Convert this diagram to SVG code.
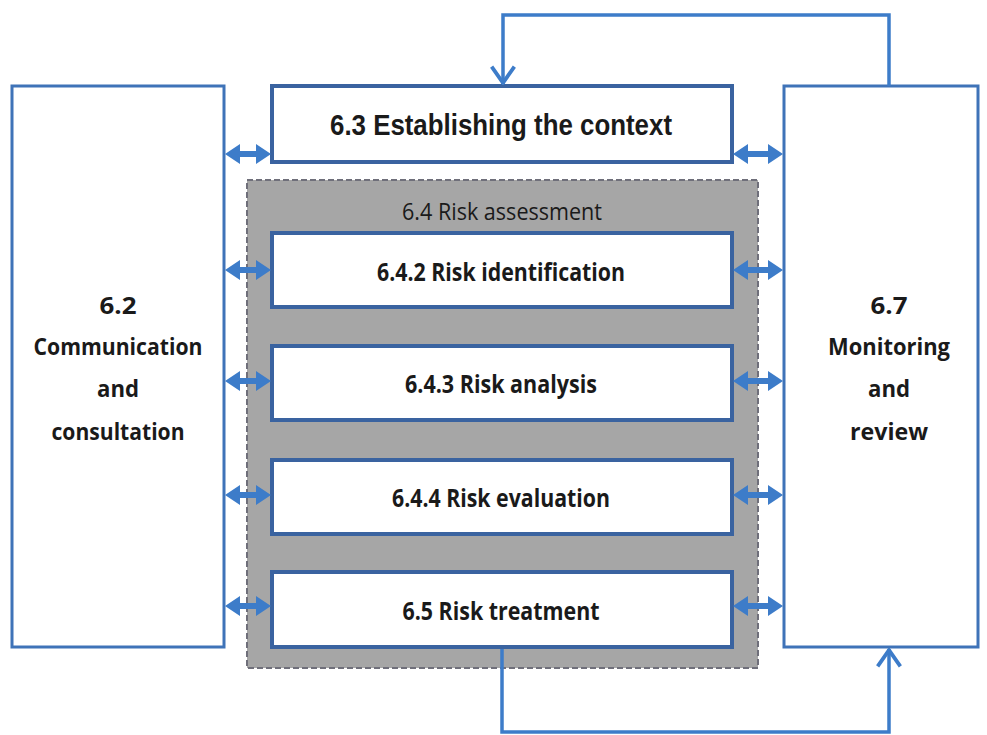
<svg xmlns="http://www.w3.org/2000/svg" width="987" height="735" viewBox="0 0 987 735">
<defs>
<path id="dblL" d="M0,0 L15,-10 L15,-3 L31,-3 L31,-10 L46,0 L31,10 L31,3 L15,3 L15,10 Z" fill="#3d7cc9"/>
<path id="dblR" d="M0,0 L15,-10 L15,-3 L35,-3 L35,-10 L50,0 L35,10 L35,3 L15,3 L15,10 Z" fill="#3d7cc9"/>
<marker id="chev" viewBox="0 0 20 24" refX="19" refY="12" markerWidth="22" markerHeight="26" orient="auto" markerUnits="userSpaceOnUse">
<path d="M3,1.5 L18,12 L3,22.5" fill="none" stroke="#3d7cc9" stroke-width="3.5"/>
</marker>
<style>
.box{fill:#fff;stroke:#3a63a0;stroke-width:4}
.side{fill:#fff;stroke:#3f73b8;stroke-width:3}
.zone{fill:#a6a6a6;stroke:#6f6f7a;stroke-width:2;stroke-dasharray:6 3}
.fb{stroke:#3d7cc9;stroke-width:3.5;fill:none}
.t1{font-family:"Liberation Sans",Arial,sans-serif;font-weight:bold;font-size:30px;fill:#1a1a1a;text-anchor:middle}
.t2{font-family:"Open Sans","Liberation Sans",sans-serif;font-weight:bold;font-size:25px;fill:#1a1a1a;text-anchor:middle}
.t4{font-family:"Open Sans","Liberation Sans",sans-serif;font-weight:bold;font-size:24px;fill:#1a1a1a;text-anchor:middle}
.t3{font-family:"Open Sans","Liberation Sans",sans-serif;font-size:23px;fill:#1a1a1a;text-anchor:middle}
</style>
</defs>
<rect width="987" height="735" fill="#fff"/>

<g id="zone-risk-assessment">
<rect class="zone" x="247" y="180" width="511" height="488"/>
<text class="t3" x="502" y="220" textLength="200" lengthAdjust="spacingAndGlyphs">6.4 Risk assessment</text>
</g>

<g id="node-communication">
<rect class="side" x="12" y="86" width="212" height="561"/>
<text class="t4" x="118" y="314" textLength="37" lengthAdjust="spacingAndGlyphs">6.2</text>
<text class="t4" x="118" y="355" textLength="169" lengthAdjust="spacingAndGlyphs">Communication</text>
<text class="t4" x="118" y="397" textLength="42" lengthAdjust="spacingAndGlyphs">and</text>
<text class="t4" x="118" y="440" textLength="133" lengthAdjust="spacingAndGlyphs">consultation</text>
</g>

<g id="node-monitoring">
<rect class="side" x="784" y="86" width="194" height="561"/>
<text class="t4" x="889" y="314" textLength="37" lengthAdjust="spacingAndGlyphs">6.7</text>
<text class="t4" x="889" y="355" textLength="122" lengthAdjust="spacingAndGlyphs">Monitoring</text>
<text class="t4" x="889" y="397" textLength="42" lengthAdjust="spacingAndGlyphs">and</text>
<text class="t4" x="889" y="440" textLength="78" lengthAdjust="spacingAndGlyphs">review</text>
</g>

<g id="node-context">
<rect class="box" x="272" y="86" width="460" height="76"/>
<text class="t1" x="501" y="135" textLength="342" lengthAdjust="spacingAndGlyphs">6.3 Establishing the context</text>
</g>

<g id="node-identification">
<rect class="box" x="272" y="233" width="460" height="74"/>
<text class="t2" x="501" y="281" textLength="248" lengthAdjust="spacingAndGlyphs">6.4.2 Risk identification</text>
</g>

<g id="node-analysis">
<rect class="box" x="272" y="346" width="460" height="74"/>
<text class="t2" x="501" y="393" textLength="192" lengthAdjust="spacingAndGlyphs">6.4.3 Risk analysis</text>
</g>

<g id="node-evaluation">
<rect class="box" x="272" y="460" width="460" height="74"/>
<text class="t2" x="501" y="507" textLength="218" lengthAdjust="spacingAndGlyphs">6.4.4 Risk evaluation</text>
</g>

<g id="node-treatment">
<rect class="box" x="272" y="572" width="460" height="75"/>
<text class="t2" x="501" y="620" textLength="197" lengthAdjust="spacingAndGlyphs">6.5 Risk treatment</text>
</g>

<g id="connectors">
<use href="#dblL" transform="translate(225,154)"/>
<use href="#dblR" transform="translate(733,154)"/>
<use href="#dblL" transform="translate(225,270)"/>
<use href="#dblR" transform="translate(733,270)"/>
<use href="#dblL" transform="translate(225,381)"/>
<use href="#dblR" transform="translate(733,381)"/>
<use href="#dblL" transform="translate(225,495)"/>
<use href="#dblR" transform="translate(733,495)"/>
<use href="#dblL" transform="translate(225,606)"/>
<use href="#dblR" transform="translate(733,606)"/>
<path class="fb" d="M889,86 V15 H503 V84" marker-end="url(#chev)"/>
<path class="fb" d="M502,649 V732 H889 V649" marker-end="url(#chev)"/>
</g>
</svg>
